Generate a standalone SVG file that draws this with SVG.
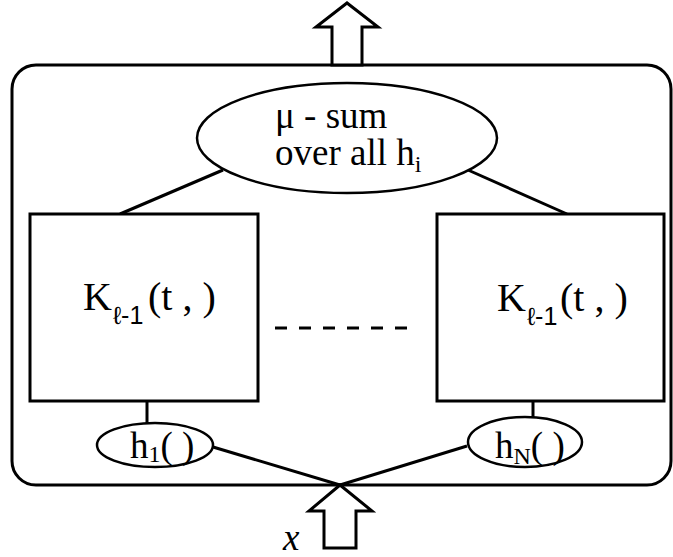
<svg xmlns="http://www.w3.org/2000/svg" width="673" height="557" viewBox="0 0 673 557">
<style>
.ln{fill:none;stroke:#000;stroke-width:3}
.sh{fill:#fff;stroke:#000;stroke-width:3}
.el{fill:#fff;stroke:#000;stroke-width:2.5}
text{font-family:"Liberation Serif","DejaVu Serif",serif;fill:#000}
.t{font-size:37px}
.k{font-size:40px}
.s{font-size:24px}
.ss{font-size:25px;font-family:"Liberation Sans","DejaVu Sans",sans-serif}
</style>
<rect width="673" height="557" fill="#fff"/>
<g id="frame"><rect x="12" y="65" width="659" height="420" rx="24" class="ln"/></g>
<g id="connectors">
<line x1="223" y1="170" x2="120" y2="214" class="ln" stroke-width="2.5"/>
<line x1="468" y1="170" x2="567" y2="214" class="ln" stroke-width="2.5"/>
<line x1="147" y1="401" x2="147" y2="423" class="ln" stroke-width="2.5"/>
<line x1="533" y1="401" x2="533" y2="417" class="ln" stroke-width="2.5"/>
<line x1="213" y1="447" x2="340" y2="485" class="ln" stroke-width="2.5"/>
<line x1="467" y1="446" x2="340" y2="485" class="ln" stroke-width="2.5"/>
<g class="ln" stroke-width="3.5">
<line x1="275" y1="328" x2="287" y2="328"/><line x1="299" y1="328" x2="311" y2="328"/><line x1="323" y1="328" x2="335" y2="328"/><line x1="347" y1="328" x2="359" y2="328"/><line x1="371" y1="328" x2="383" y2="328"/><line x1="395" y1="328" x2="407" y2="328"/>
</g>
</g>
<g id="out-arrow"><polygon points="332,65 332,27 316,27 347,3 378,27 362,27 362,65" class="sh"/></g>
<g id="in-arrow"><polygon points="340,485 372,511 356,511 356,548 324,548 324,511 309,511" class="sh"/>
<text x="283" y="550" class="t" font-style="italic">x</text></g>
<g id="musum"><ellipse cx="347" cy="138" rx="150" ry="55" class="el"/>
<text x="275" y="128" class="t">μ - sum</text>
<text x="275" y="165" class="t">over all h<tspan class="s" dy="7">i</tspan></text></g>
<g id="K1"><rect x="30" y="214" width="228" height="187" class="sh"/>
<text x="83" y="310" class="k">K<tspan class="ss" x="113" y="324">ℓ-1</tspan><tspan x="148" y="310">(t , )</tspan></text></g>
<g id="KN"><rect x="437" y="214" width="227" height="187" class="sh"/>
<text x="497" y="311" class="k">K<tspan class="ss" x="527" y="325">ℓ-1</tspan><tspan x="560" y="311">(t , )</tspan></text></g>
<g id="h1"><ellipse cx="155" cy="445" rx="58" ry="22" class="el"/>
<text x="130" y="458" class="t">h<tspan class="s" dy="4">1</tspan><tspan dy="-4">( )</tspan></text></g>
<g id="hN"><ellipse cx="525" cy="442" rx="57" ry="25" class="el"/>
<text x="495" y="458" class="t">h<tspan class="s" dy="6">N</tspan><tspan dy="-6">( )</tspan></text></g>
</svg>
